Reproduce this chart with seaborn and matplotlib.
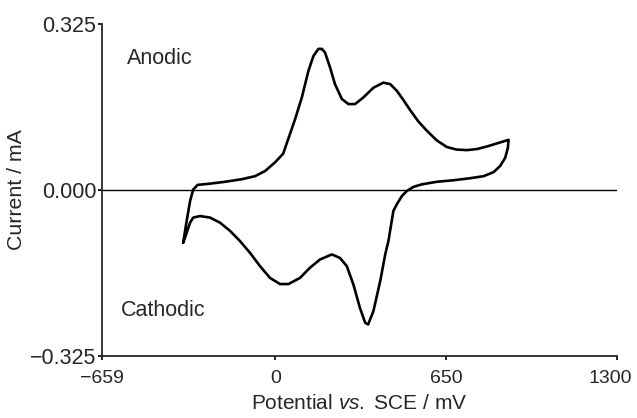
import pandas as pd
import seaborn as sns
import numpy as np
import matplotlib.pyplot as plt
from matplotlib.transforms import ScaledTranslation

# Cyclic voltammogram, values (mV vs. SCE, mA)
# forward (anodic) sweep, from the negative switching potential upwards
anodic_potential = [-350, -337, -324, -312, -295, -255, -191, -128, -77, -39, -1, 30,
                    75, 101, 126, 145, 164, 177, 189, 208, 227, 253, 278, 303, 335,
                    373, 411, 437, 462, 487, 513, 544, 576, 614, 652, 690, 728, 766,
                    804, 842, 887]
anodic_current = [-0.103, -0.061, -0.022, 0.001, 0.010, 0.012, 0.016, 0.021, 0.027,
                  0.037, 0.054, 0.071, 0.138, 0.181, 0.233, 0.262, 0.276, 0.276, 0.269,
                  0.240, 0.207, 0.178, 0.168, 0.168, 0.181, 0.200, 0.210, 0.207, 0.194,
                  0.176, 0.156, 0.134, 0.116, 0.097, 0.084, 0.079, 0.078, 0.080, 0.085,
                  0.091, 0.098]

# reverse (cathodic) sweep, back to the starting potential
cathodic_potential = [884, 874, 855, 830, 792, 741, 677, 614, 557, 525, 500, 481, 462,
                      449, 430, 418, 399, 373, 353, 342, 322, 297, 272, 246, 215, 170,
                      132, 94, 50, 18, -20, -58, -96, -134, -172, -210, -248, -286,
                      -312, -324, -343, -350]
cathodic_current = [0.082, 0.063, 0.047, 0.035, 0.027, 0.023, 0.019, 0.016, 0.011,
                    0.006, -0.002, -0.012, -0.028, -0.041, -0.100, -0.126, -0.178,
                    -0.237, -0.263, -0.260, -0.231, -0.185, -0.149, -0.133, -0.126,
                    -0.136, -0.152, -0.172, -0.184, -0.184, -0.172, -0.149, -0.123,
                    -0.100, -0.080, -0.064, -0.054, -0.051, -0.054, -0.064, -0.093,
                    -0.103]

x_ticks = [-659, 0, 650, 1300]
x_labels = ["\u2212659", "0", "650", "1300"]
y_ticks = [-0.325, 0.0, 0.325]
y_labels = ["\u22120.325", "0.000", "0.325"]

df = pd.DataFrame({
    "potential": anodic_potential + cathodic_potential,
    "current": anodic_current + cathodic_current,
})

sns.set_style("ticks")
plt.rcParams["font.family"] = ["Liberation Sans", "DejaVu Sans"]
plt.rcParams["mathtext.fontset"] = "custom"
plt.rcParams["mathtext.rm"] = "Liberation Sans"
plt.rcParams["mathtext.it"] = "Liberation Sans:italic"

fig, ax = plt.subplots(figsize=(6.37, 4.18), dpi=100)
fig.subplots_adjust(left=0.160, right=0.969, top=0.943, bottom=0.148)

ax.axhline(0, color="black", lw=1.0, zorder=1)
sns.lineplot(data=df, x="potential", y="current", sort=False, estimator=None,
             color="black", lw=1.9, ax=ax,
             solid_joinstyle="round", solid_capstyle="round")

ax.set_xlim(-659, 1300)
ax.set_ylim(-0.325, 0.325)
ax.set_xticks(x_ticks)
ax.set_xticklabels(x_labels)
ax.set_yticks(y_ticks)
ax.set_yticklabels(y_labels)
ax.tick_params(length=3, width=1.2, color="black")
ax.tick_params(axis="x", labelsize=14, pad=7)
ax.tick_params(axis="y", labelsize=15.5, pad=1)

# the last x label sits a little left of its tick in the original
last = ax.get_xticklabels()[-1]
last.set_transform(last.get_transform() + ScaledTranslation(-0.07, 0, fig.dpi_scale_trans))

ax.set_xlabel(r"Potential $\it{vs.}$ SCE / mV", fontsize=15, labelpad=5)
ax.set_ylabel("Current / mA", fontsize=15.3, labelpad=3)

ax.text(-564, 0.258, "Anodic", fontsize=15.5, va="center", ha="left")
ax.text(-587, -0.235, "Cathodic", fontsize=15.5, va="center", ha="left")

sns.despine(ax=ax)
for side in ["left", "bottom"]:
    ax.spines[side].set_linewidth(1.3)

plt.savefig("out.png", dpi=100)
